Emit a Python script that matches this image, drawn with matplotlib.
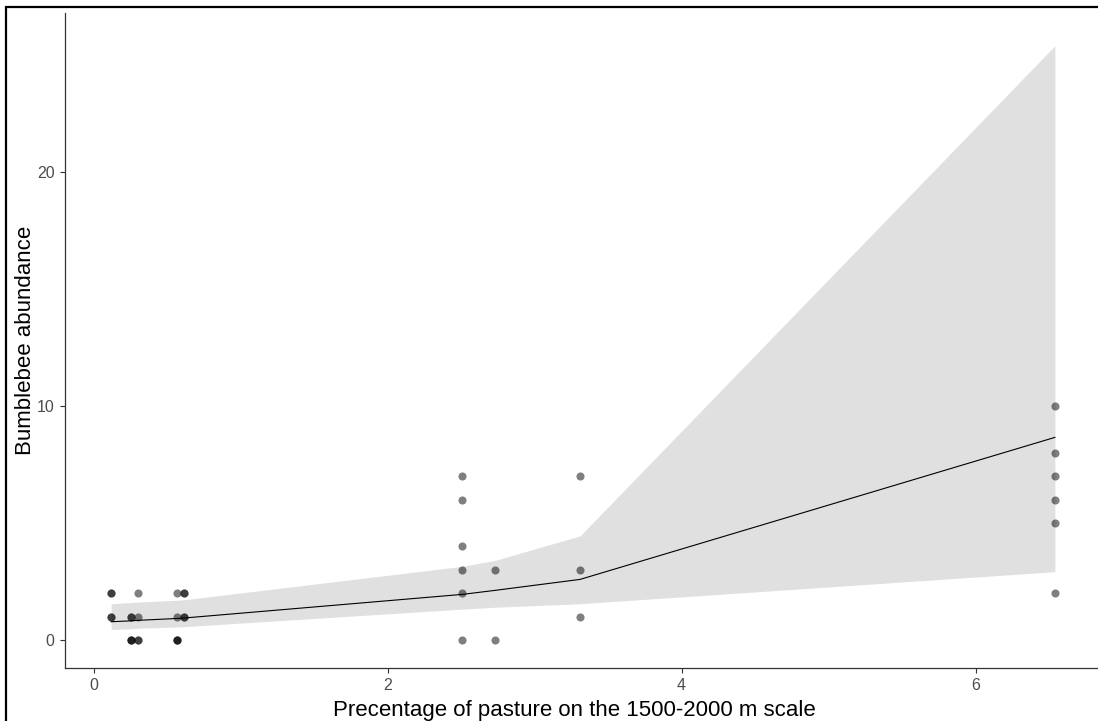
"""Bumblebee abundance vs pasture share"""
import matplotlib.pyplot as plt
from matplotlib.patches import Rectangle

plt.rcParams['font.family'] = ['Liberation Sans', 'DejaVu Sans']

# observed points (repeated values overlap, as in the original)
pasture = [0.12, 0.12, 0.12, 0.12,
           0.256, 0.256, 0.256, 0.256, 0.256,
           0.30, 0.30, 0.30, 0.30,
           0.57, 0.57, 0.57, 0.57, 0.57,
           0.617, 0.617, 0.617, 0.617,
           2.51, 2.51, 2.51, 2.51, 2.51, 2.51,
           2.73, 2.73,
           3.31, 3.31, 3.31,
           6.54, 6.54, 6.54, 6.54, 6.54, 6.54]
abundance = [2, 2, 1, 1,
             1, 1, 0, 0, 0,
             2, 1, 0, 0,
             2, 1, 0, 0, 0,
             2, 2, 1, 1,
             7, 6, 4, 3, 2, 0,
             3, 0,
             7, 3, 1,
             10, 8, 7, 6, 5, 2]

# fitted curve and confidence band
fit_x = [0.12, 0.256, 0.30, 0.57, 0.617, 2.51, 2.73, 3.31, 6.54]
fit_y = [0.78, 0.82, 0.84, 0.92, 0.94, 1.95, 2.12, 2.59, 8.66]
fit_lo = [0.45, 0.48, 0.50, 0.56, 0.57, 1.32, 1.40, 1.55, 2.92]
fit_hi = [1.55, 1.60, 1.62, 1.70, 1.72, 3.15, 3.40, 4.45, 25.4]

W, H = 1098, 721
AX_L, AX_B, AX_T = 65, 668, 13
fig = plt.figure(figsize=(W / 100, H / 100), dpi=100)
ax = fig.add_axes([AX_L / W, (H - AX_B) / H, (W - AX_L) / W, (AX_B - AX_T) / H])

ax.fill_between(fit_x, fit_lo, fit_hi, color='#E0E0E0', linewidth=0, zorder=1)
ax.plot(fit_x, fit_y, color='black', linewidth=0.8, zorder=2)
ax.scatter(pasture, abundance, s=34, color='black', alpha=0.5,
           linewidths=0, zorder=3)

ax.set_xlim(-0.194, (W - 93.5) / 147)
ax.set_ylim(-1.197, 26.8)
ax.set_xticks([0, 2, 4, 6])
ax.set_yticks([0, 10, 20])

for side in ['top', 'right']:
    ax.spines[side].set_visible(False)
for side in ['left', 'bottom']:
    ax.spines[side].set_color('#333333')
    ax.spines[side].set_linewidth(0.9)
ax.tick_params(colors='#333333', labelcolor='#4D4D4D', labelsize=11.5,
               length=3.5, width=0.8, pad=4)

ax.set_xlabel('Precentage of pasture on the 1500-2000 m scale', fontsize=16)
ax.set_ylabel('Bumblebee abundance', fontsize=16)
ax.xaxis.label.set_va('top')
ax.xaxis.set_label_coords((574 - AX_L) / (W - AX_L),
                          -(700 - AX_B) / (AX_B - AX_T))
ax.yaxis.label.set_va('center')
ax.yaxis.set_label_coords(-(AX_L - 26) / (W - AX_L), 0.5)

# black frame round the image (cut off on the right and bottom)
fig.patches.append(Rectangle((6 / W, -0.05), 1.1, (H - 7) / H + 0.05,
                             transform=fig.transFigure, fill=False,
                             edgecolor='black', linewidth=1.6))

fig.savefig('out.png', dpi=100)
plt.close(fig)
